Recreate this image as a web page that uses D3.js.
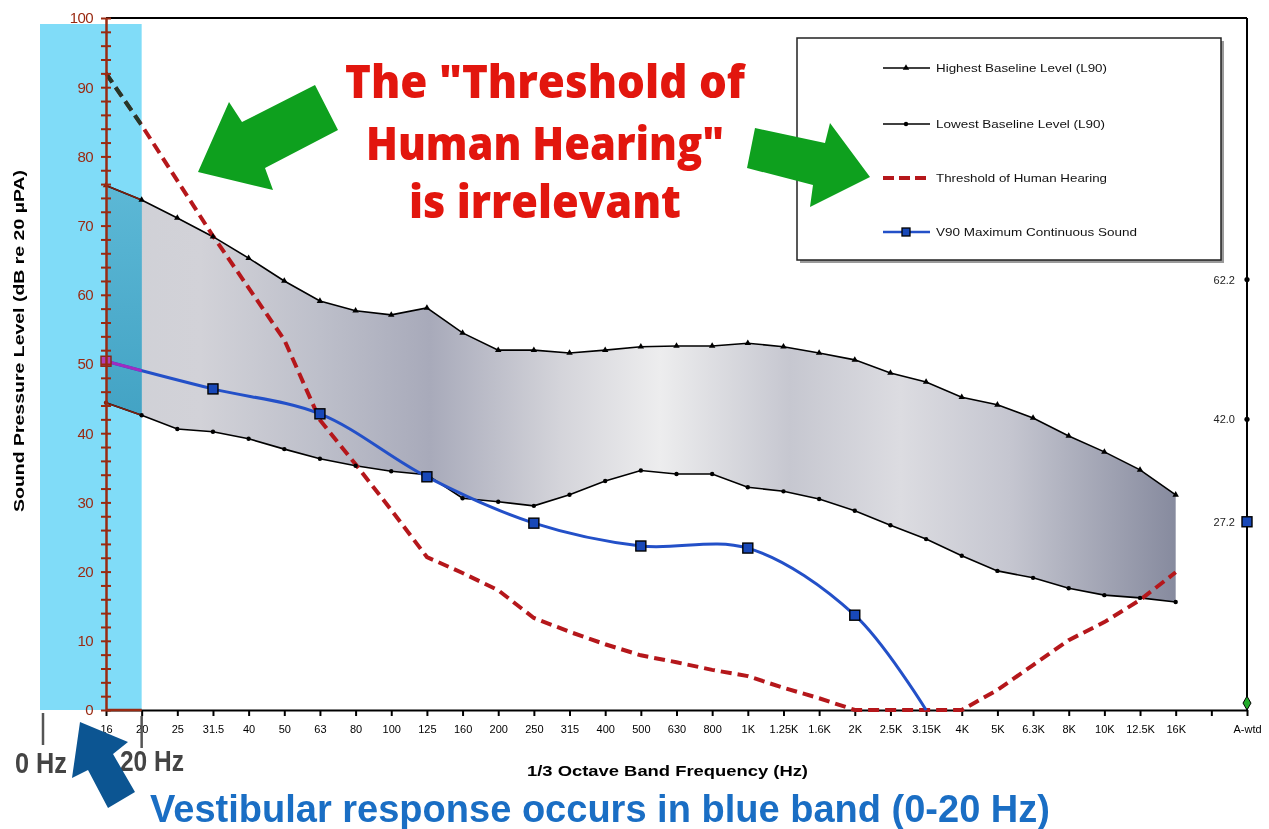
<!DOCTYPE html>
<html><head><meta charset="utf-8">
<script src="https://cdn.jsdelivr.net/npm/d3@7"></script>
<style>body{margin:0;background:#fff;} svg{display:block;font-family:"Liberation Sans",Arial,sans-serif;}</style>
</head><body>
<svg id="c" width="1269" height="829"></svg>
<script>
// ---------- DATA ----------
const categories = ["16","20","25","31.5","40","50","63","80","100","125","160","200","250","315","400","500","630","800","1K","1.25K","1.6K","2K","2.5K","3.15K","4K","5K","6.3K","8K","10K","12.5K","16K"," ","A-wtd"];
const bandCategories = categories.slice(0, 31);
const highest   = [75.8,73.7,71.1,68.4,65.3,62.0,59.1,57.7,57.1,58.1,54.5,52.0,52.0,51.6,52.0,52.5,52.6,52.6,53.0,52.5,51.6,50.6,48.7,47.4,45.2,44.1,42.2,39.6,37.3,34.7,31.1];
const lowest    = [44.4,42.6,40.6,40.2,39.2,37.7,36.3,35.3,34.5,34.0,30.6,30.1,29.5,31.1,33.1,34.6,34.1,34.1,32.2,31.6,30.5,28.8,26.7,24.7,22.3,20.1,19.1,17.6,16.6,16.2,15.6];
const threshold = [92.0,84.5,76.5,68.5,61.0,53.5,41.9,35.5,28.9,22.1,19.8,17.3,13.3,11.3,9.5,7.9,6.9,5.8,4.9,3.2,1.7,0,0,0,0,2.9,6.5,10.1,12.7,15.9,19.9];
const v90Categories = ["16","31.5","63","125","250","500","1K","2K","3.15K"];
const v90Values     = [50.4,46.4,42.8,33.7,27.0,23.7,23.4,13.7,0];
const v90Markers    = 8; // first 8 points carry markers
const aWtdCategory = "A-wtd";
const aWtdHighest = 62.2, aWtdLowest = 42.0, aWtdV90 = 27.2, aWtdThreshold = 1.0;
const seriesNames = ["Highest Baseline Level (L90)","Lowest Baseline Level (L90)","Threshold of Human Hearing","V90 Maximum Continuous Sound"];
const yTickValues = d3.range(0, 101, 2);

// ---------- SETUP ----------
const svg = d3.select("#c");
const x = d3.scalePoint().domain(categories).range([106, 1247]);
const y = d3.scaleLinear().domain([0, 100]).range([710, 18]);
const RED_AX = "#9a2a12";

const defs = svg.append("defs");
const g1 = defs.append("linearGradient").attr("id","fillGrad").attr("gradientUnits","userSpaceOnUse")
  .attr("x1",106).attr("x2",1177).attr("y1",0).attr("y2",0);
[[106,"#cfd0d6"],[200,"#d2d2d8"],[320,"#bdbfca"],[430,"#a8aaba"],[560,"#d4d4da"],[660,"#ededee"],[790,"#c6c7d0"],[900,"#dcdce1"],[1010,"#c5c6d0"],[1177,"#868a9e"]]
  .forEach(([p,c]) => g1.append("stop").attr("offset", ((p-106)/(1177-106)*100)+"%").attr("stop-color", c));
const g2 = defs.append("linearGradient").attr("id","tealGrad").attr("x1",0).attr("x2",0).attr("y1",0).attr("y2",1);
g2.append("stop").attr("offset","0%").attr("stop-color","#5cb8d6");
g2.append("stop").attr("offset","100%").attr("stop-color","#2f92b6");
defs.append("clipPath").attr("id","bandClip").append("rect")
  .attr("x", x("16")).attr("y", 0).attr("width", x("20") - x("16")).attr("height", 712);

// blue band
svg.append("rect").attr("x", 40).attr("y", 24).attr("width", x("20") - 40).attr("height", y(0) - 24).attr("fill", "#80dcf8");

const bandData = bandCategories.map((c, i) => ({c, hi: highest[i], lo: lowest[i], th: threshold[i]}));
const area = d3.area().x(d => x(d.c)).y0(d => y(d.lo)).y1(d => y(d.hi));
svg.append("path").datum(bandData).attr("d", area).attr("fill", "url(#fillGrad)").style("mix-blend-mode", "multiply");
svg.append("path").datum(bandData).attr("d", area).attr("fill", "url(#tealGrad)").attr("clip-path", "url(#bandClip)");

// frame top & right
svg.append("line").attr("x1", x("16")).attr("x2", x(aWtdCategory)).attr("y1", y(100)).attr("y2", y(100)).attr("stroke", "#000").attr("stroke-width", 2);
svg.append("line").attr("x1", x(aWtdCategory)).attr("x2", x(aWtdCategory)).attr("y1", y(100)).attr("y2", y(0)).attr("stroke", "#000").attr("stroke-width", 2);

// x axis
const xAxis = svg.append("g").attr("transform", `translate(0,${y(0)})`)
  .call(d3.axisBottom(x).tickSizeInner(6).tickSizeOuter(0).tickPadding(9));
xAxis.select(".domain").attr("stroke", "#000").attr("stroke-width", 2);
xAxis.selectAll(".tick line").attr("stroke", "#000").attr("stroke-width", 2);
xAxis.selectAll(".tick text").attr("font-size", 11).attr("fill", "#000").attr("font-family", "Liberation Sans, Arial, sans-serif");
svg.append("line").attr("x1", x("16")).attr("x2", x("20")).attr("y1", y(0)).attr("y2", y(0)).attr("stroke", RED_AX).attr("stroke-width", 2.5);

// lines
const lineHi = d3.line().x(d => x(d.c)).y(d => y(d.hi));
const lineLo = d3.line().x(d => x(d.c)).y(d => y(d.lo));
const lineTh = d3.line().x(d => x(d.c)).y(d => y(d.th));
const v90Data = v90Categories.map((c, i) => ({c, v: v90Values[i]}));
const lineV = d3.line().x(d => x(d.c)).y(d => y(d.v)).curve(d3.curveCatmullRom.alpha(0.5));

function drawLines(g, cHi, cLo, cTh, cV) {
  g.append("path").datum(bandData).attr("d", lineHi).attr("fill", "none").attr("stroke", cHi).attr("stroke-width", 1.6);
  g.append("path").datum(bandData).attr("d", lineLo).attr("fill", "none").attr("stroke", cLo).attr("stroke-width", 1.6);
  g.append("path").datum(bandData).attr("d", lineTh).attr("fill", "none").attr("stroke", cTh).attr("stroke-width", 4).attr("stroke-dasharray", "11,6");
  g.append("path").datum(v90Data).attr("d", lineV).attr("fill", "none").attr("stroke", cV).attr("stroke-width", 3);
}
drawLines(svg.append("g"), "#000", "#000", "#b5171b", "#2350c8");
drawLines(svg.append("g").attr("clip-path", "url(#bandClip)"), "#7a2010", "#7a2010", "#22382a", "#a02cc0");

// markers
const tri = d3.symbol().type(d3.symbolTriangle).size(18);
svg.append("g").selectAll("path").data(bandData).join("path")
  .attr("d", tri).attr("transform", d => `translate(${x(d.c)},${y(d.hi)})`).attr("fill", (d, i) => i === 0 ? "#7a2010" : "#000");
svg.append("g").selectAll("circle").data(bandData).join("circle")
  .attr("cx", d => x(d.c)).attr("cy", d => y(d.lo)).attr("r", 2.2).attr("fill", (d, i) => i === 0 ? "#7a2010" : "#000");
svg.append("g").selectAll("rect").data(v90Data.slice(0, v90Markers)).join("rect")
  .attr("x", d => x(d.c) - 5).attr("y", d => y(d.v) - 5).attr("width", 10).attr("height", 10)
  .attr("fill", (d, i) => i === 0 ? "#b040b8" : "#1848b8").attr("stroke", (d, i) => i === 0 ? "#8a2410" : "#000").attr("stroke-width", 1.4);

// y axis (left, dark red, crossing ticks)
const yAxis = svg.append("g").attr("transform", `translate(${x("16")},0)`)
  .call(d3.axisLeft(y).tickValues(yTickValues).tickSize(0).tickPadding(13).tickFormat(d => d % 10 === 0 ? d : ""));
yAxis.select(".domain").attr("stroke", RED_AX).attr("stroke-width", 2.5);
yAxis.selectAll(".tick").append("line").attr("x1", -5).attr("x2", 5).attr("stroke", RED_AX).attr("stroke-width", 2);
yAxis.selectAll(".tick text").attr("font-size", 15).attr("fill", RED_AX).attr("letter-spacing", "-0.6").attr("font-family", "Liberation Sans, Arial, sans-serif");

// right axis labels (A-weighted values)
const rAxis = svg.append("g").attr("transform", `translate(${x(aWtdCategory)},0)`)
  .call(d3.axisLeft(y).tickValues([aWtdHighest, aWtdLowest, aWtdV90]).tickSize(0).tickPadding(12).tickFormat(d3.format(".1f")));
rAxis.select(".domain").remove();
rAxis.selectAll(".tick text").attr("font-size", 11).attr("fill", "#222");
svg.append("circle").attr("cx", x(aWtdCategory)).attr("cy", y(aWtdHighest)).attr("r", 2.6).attr("fill", "#000");
svg.append("circle").attr("cx", x(aWtdCategory)).attr("cy", y(aWtdLowest)).attr("r", 2.6).attr("fill", "#000");
svg.append("rect").attr("x", x(aWtdCategory) - 5).attr("y", y(aWtdV90) - 5).attr("width", 10).attr("height", 10).attr("fill", "#1848b8").attr("stroke", "#000").attr("stroke-width", 1.4);
svg.append("path").attr("d", d3.symbol().type(d3.symbolDiamond).size(55)).attr("transform", `translate(${x(aWtdCategory)},${y(aWtdThreshold)})`).attr("fill", "#22aa2a").attr("stroke", "#000").attr("stroke-width", 1);

// axis titles
svg.append("text").attr("transform", "translate(24,341) rotate(-90)").attr("text-anchor", "middle")
  .attr("font-size", 14).attr("font-weight", "bold").attr("textLength", 342).attr("lengthAdjust", "spacingAndGlyphs")
  .text("Sound Pressure Level (dB re 20 \u00B5PA)");
svg.append("text").attr("x", 527).attr("y", 776).attr("font-size", 14).attr("font-weight", "bold")
  .attr("textLength", 281).attr("lengthAdjust", "spacingAndGlyphs").text("1/3 Octave Band Frequency (Hz)");

// legend
svg.append("rect").attr("x", 800).attr("y", 41).attr("width", 424).attr("height", 222).attr("fill", "#9a9a9a");
svg.append("rect").attr("x", 797).attr("y", 38).attr("width", 424).attr("height", 222).attr("fill", "#fff").attr("stroke", "#222").attr("stroke-width", 1.5);
const legY = [68, 124, 178, 232];
const legW = [171, 169, 171, 201];
const lg = svg.append("g");
seriesNames.forEach((name, i) => {
  const yy = legY[i];
  const ln = lg.append("line").attr("x1", 883).attr("x2", 930).attr("y1", yy).attr("y2", yy);
  if (i < 2) ln.attr("stroke", "#000").attr("stroke-width", 1.6);
  if (i === 2) ln.attr("stroke", "#b5171b").attr("stroke-width", 4).attr("stroke-dasharray", "11,5");
  if (i === 3) ln.attr("stroke", "#2350c8").attr("stroke-width", 2.5);
  if (i === 0) lg.append("path").attr("d", tri).attr("transform", `translate(906,${yy})`).attr("fill", "#000");
  if (i === 1) lg.append("circle").attr("cx", 906).attr("cy", yy).attr("r", 2.2).attr("fill", "#000");
  if (i === 3) lg.append("rect").attr("x", 902).attr("y", yy - 4).attr("width", 8).attr("height", 8).attr("fill", "#1848b8").attr("stroke", "#000").attr("stroke-width", 1.3);
  lg.append("text").attr("x", 936).attr("y", yy + 4).attr("font-size", 10.5).attr("fill", "#111")
    .attr("textLength", legW[i]).attr("lengthAdjust", "spacingAndGlyphs").text(name);
});

// annotations: green arrows
svg.append("polygon").attr("points", "315,85 242,122 229,102 198,172 273,190 265,168 338,130").attr("fill", "#0ea01e");
svg.append("polygon").attr("points", "755,128 825,143 830,123 870,177 810,207 813,185 747,168").attr("fill", "#0ea01e");

// red title
const title = [["The \"Threshold of", 98, 400], ["Human Hearing\"", 160, 358], ["is irrelevant", 218, 272]];
title.forEach(([t, yy, w]) => {
  svg.append("text").attr("x", 545).attr("y", yy).attr("text-anchor", "middle").attr("font-family", "'Open Sans', Lato, sans-serif")
    .attr("font-weight", 800).attr("font-size", 46).attr("fill", "#e2160e").attr("textLength", w).attr("lengthAdjust", "spacingAndGlyphs").text(t);
});

// 0 Hz / 20 Hz markers
svg.append("line").attr("x1", 43).attr("x2", 43).attr("y1", 713).attr("y2", 745).attr("stroke", "#555").attr("stroke-width", 2.5);
svg.append("line").attr("x1", x("20")).attr("x2", x("20")).attr("y1", 716).attr("y2", 748).attr("stroke", "#555").attr("stroke-width", 2.5);
svg.append("text").attr("x", 15).attr("y", 773).attr("font-size", 30).attr("font-weight", "bold").attr("fill", "#444")
  .attr("textLength", 52).attr("lengthAdjust", "spacingAndGlyphs").text("0 Hz");
svg.append("text").attr("x", 120).attr("y", 771).attr("font-size", 30).attr("font-weight", "bold").attr("fill", "#444")
  .attr("textLength", 64).attr("lengthAdjust", "spacingAndGlyphs").text("20 Hz");

// blue arrow
svg.append("polygon").attr("points", "80,722 128,742 113,754 135,792 108,808 88,770 72,778").attr("fill", "#0c5592");

// vestibular text
svg.append("text").attr("x", 150).attr("y", 822).attr("font-size", 38).attr("font-weight", "bold").attr("fill", "#1a6ec4")
  .attr("textLength", 900).attr("lengthAdjust", "spacingAndGlyphs").text("Vestibular response occurs in blue band (0-20 Hz)");
</script>
</body></html>
